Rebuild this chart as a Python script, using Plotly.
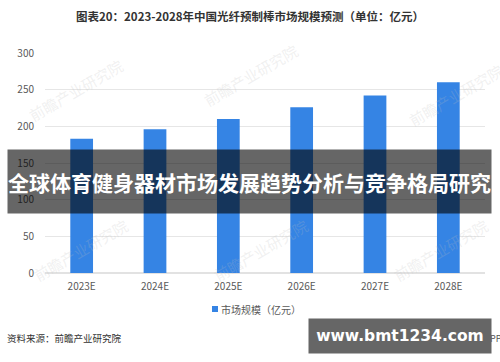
import plotly.graph_objects as go

categories = ["2023E", "2024E", "2025E", "2026E", "2027E", "2028E"]
market_size = [183, 196, 210, 226, 242, 260]
y_ticks = [0, 50, 100, 150, 200, 250, 300]

title_text = "图表20：2023-2028年中国光纤预制棒市场规模预测（单位：亿元）"
series_name = "市场规模（亿元）"
source_text = "资料来源：前瞻产业研究院"
overlay_text = "全球体育健身器材市场发展趋势分析与竞争格局研究"
site_text = "www.bmt1234.com"
watermark_text = "前瞻产业研究院"

W, H = 500, 362
L, R, T, B = 45, 15, 53, 89
PW, PH = W - L - R, H - T - B


def px(x):
    return (x - L) / PW


def py(y):
    return 1 - (y - T) / PH


FONT = "Noto Sans CJK SC"
BAR_COLOR = "#3584e4"

fig = go.Figure()
fig.add_trace(go.Bar(
    x=categories, y=market_size, name=series_name,
    marker=dict(color=BAR_COLOR, line=dict(width=0)),
    width=0.31, showlegend=False,
))

annotations = []
# faint watermarks
for (wx, wy) in [(75, 90), (250, 75), (455, 95), (80, 250), (260, 250), (440, 250)]:
    annotations.append(dict(
        x=px(wx), y=py(wy), xref="paper", yref="paper", text=watermark_text,
        showarrow=False, textangle=-30, xanchor="center", yanchor="middle",
        font=dict(family=FONT, size=15, color="rgba(190,190,190,0.22)"),
    ))

annotations += [
    dict(x=px(250), y=py(15.5), xref="paper", yref="paper", text="<b>" + title_text + "</b>",
         showarrow=False, xanchor="center", yanchor="middle",
         font=dict(family=FONT, size=11.5, color="#333333")),
    dict(x=px(219), y=py(309), xref="paper", yref="paper", text=series_name,
         showarrow=False, xanchor="left", yanchor="middle",
         font=dict(family=FONT, size=10, color="#595959")),
    dict(x=px(5), y=py(338), xref="paper", yref="paper", text=source_text,
         showarrow=False, xanchor="left", yanchor="middle",
         font=dict(family=FONT, size=9.5, color="#333333")),
    dict(x=px(420), y=py(338), xref="paper", yref="paper", text="@前瞻经济学人APP",
         showarrow=False, xanchor="left", yanchor="middle",
         font=dict(family=FONT, size=9, color="#555555")),
    dict(x=px(249.5), y=py(181.5), xref="paper", yref="paper",
         text="<b>" + overlay_text + "</b>", showarrow=False,
         xanchor="center", yanchor="middle",
         width=483, height=63, bgcolor="rgba(0,0,0,0.6)", borderpad=0,
         font=dict(family=FONT, size=21, color="white")),
    dict(x=px(400), y=py(336), xref="paper", yref="paper",
         text="<b>" + site_text + "</b>", showarrow=False,
         xanchor="center", yanchor="middle",
         width=182, height=34, bgcolor="#666666", borderpad=0,
         font=dict(family="DejaVu Sans", size=15.5, color="white")),
]

shapes = [
    dict(type="rect", xref="paper", yref="paper",
         x0=px(212), x1=px(218), y0=py(312), y1=py(306),
         fillcolor=BAR_COLOR, line=dict(width=0)),
]

fig.update_layout(
    width=W, height=H,
    margin=dict(l=L, r=R, t=T, b=B, pad=0),
    paper_bgcolor="white", plot_bgcolor="white",
    bargap=0.69,
    showlegend=False,
    font=dict(family=FONT, color="#595959"),
    xaxis=dict(showgrid=False, showline=False, ticks="",
               tickfont=dict(size=10, color="#595959"), ticklabelstandoff=6),
    yaxis=dict(range=[0, 300], tickvals=y_ticks, showgrid=True, gridcolor="#e6e6e6",
               gridwidth=1, zeroline=True, zerolinecolor="#e2e2e2", zerolinewidth=2,
               tickfont=dict(size=10, color="#595959"), ticks="", ticklabelstandoff=10),
    annotations=annotations,
    shapes=shapes,
)

fig.write_html("out.html", config={"displayModeBar": False},
               post_script="document.body.style.margin='0';document.body.style.padding='0';")
